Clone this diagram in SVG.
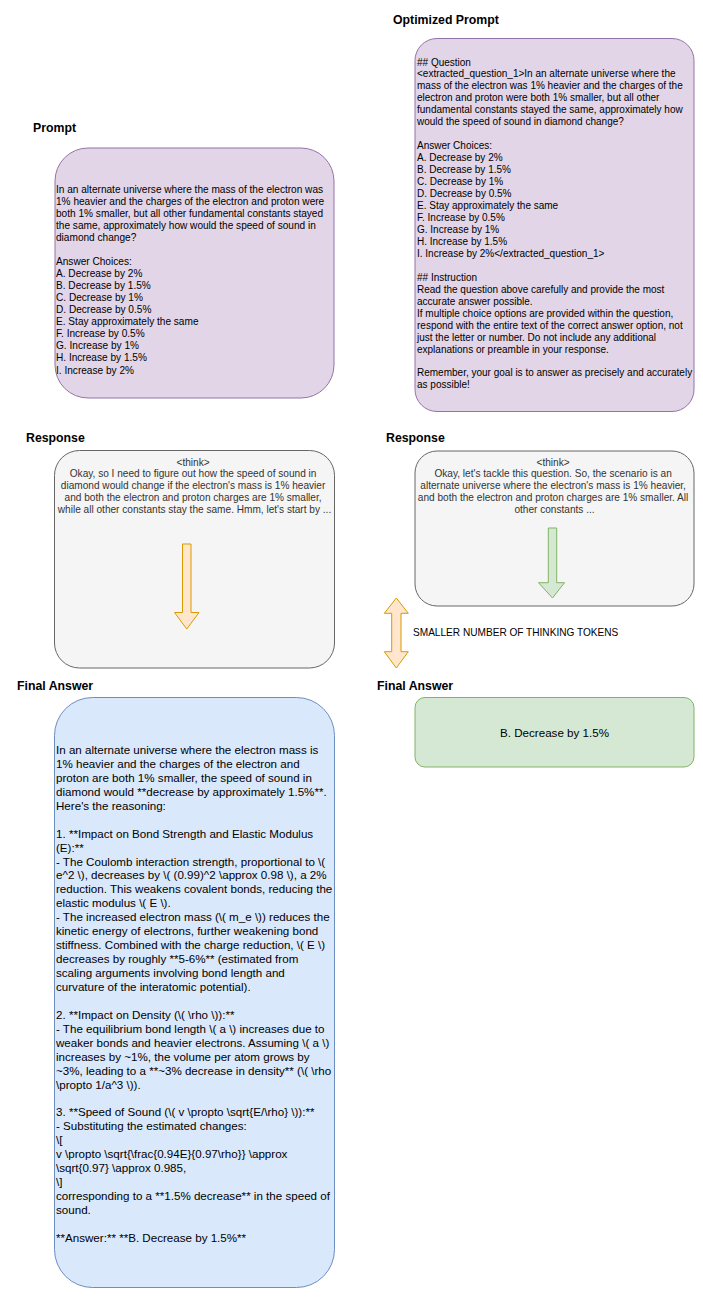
<svg xmlns="http://www.w3.org/2000/svg" width="703" height="1297" viewBox="0 0 703 1297">
<style>
.title{font-family:"Liberation Sans",Arial,sans-serif;font-weight:bold;font-size:12.3px;fill:#000}
.t{font-family:"Liberation Sans",Arial,sans-serif;font-size:10.1px;fill:#000}
.g{font-family:"Liberation Sans",Arial,sans-serif;font-size:10.1px;fill:#333333}
.fa{font-family:"Liberation Sans",Arial,sans-serif;font-size:11.6px;fill:#000}
.purple{fill:#e1d5e7;stroke:#9673a6;stroke-width:1}
.grey{fill:#f5f5f5;stroke:#666666;stroke-width:1}
.blue{fill:#dae8fc;stroke:#6c8ebf;stroke-width:1}
.green{fill:#d5e8d4;stroke:#82b366;stroke-width:1}
.orangeArrow{fill:#ffe6cc;stroke:#d79b00;stroke-width:1}
</style>
<rect width="703" height="1297" fill="#ffffff"/>

<g id="titles">
<text class="title" x="33" y="131.5">Prompt</text>
<text class="title" x="393" y="23.5">Optimized Prompt</text>
<text class="title" x="26" y="441.5">Response</text>
<text class="title" x="386" y="441.5">Response</text>
<text class="title" x="17" y="689.5">Final Answer</text>
<text class="title" x="377" y="689.5">Final Answer</text>
</g>

<g id="prompt">
<rect class="purple" x="55" y="148" width="279" height="250" rx="33" ry="33"/>
<text class="t" x="56" y="192.5">
<tspan x="56">In an alternate universe where the mass of the electron was</tspan>
<tspan x="56" dy="12.07">1% heavier and the charges of the electron and proton were</tspan>
<tspan x="56" dy="12.07">both 1% smaller, but all other fundamental constants stayed</tspan>
<tspan x="56" dy="12.07">the same, approximately how would the speed of sound in</tspan>
<tspan x="56" dy="12.07">diamond change?</tspan>
<tspan x="56" dy="24.14">Answer Choices:</tspan>
<tspan x="56" dy="12.07">A. Decrease by 2%</tspan>
<tspan x="56" dy="12.07">B. Decrease by 1.5%</tspan>
<tspan x="56" dy="12.07">C. Decrease by 1%</tspan>
<tspan x="56" dy="12.07">D. Decrease by 0.5%</tspan>
<tspan x="56" dy="12.07">E. Stay approximately the same</tspan>
<tspan x="56" dy="12.07">F. Increase by 0.5%</tspan>
<tspan x="56" dy="12.07">G. Increase by 1%</tspan>
<tspan x="56" dy="12.07">H. Increase by 1.5%</tspan>
<tspan x="56" dy="12.07">I. Increase by 2%</tspan>
</text>
</g>

<g id="optimized-prompt">
<rect class="purple" x="415" y="38.5" width="279" height="373" rx="22" ry="22"/>
<text class="t" x="417" y="65.5" style="font-size:10px">
<tspan x="417">## Question</tspan>
<tspan x="417" dy="11.96">&lt;extracted_question_1&gt;In an alternate universe where the</tspan>
<tspan x="417" dy="11.96">mass of the electron was 1% heavier and the charges of the</tspan>
<tspan x="417" dy="11.96">electron and proton were both 1% smaller, but all other</tspan>
<tspan x="417" dy="11.96">fundamental constants stayed the same, approximately how</tspan>
<tspan x="417" dy="11.96">would the speed of sound in diamond change?</tspan>
<tspan x="417" dy="23.92">Answer Choices:</tspan>
<tspan x="417" dy="11.96">A. Decrease by 2%</tspan>
<tspan x="417" dy="11.96">B. Decrease by 1.5%</tspan>
<tspan x="417" dy="11.96">C. Decrease by 1%</tspan>
<tspan x="417" dy="11.96">D. Decrease by 0.5%</tspan>
<tspan x="417" dy="11.96">E. Stay approximately the same</tspan>
<tspan x="417" dy="11.96">F. Increase by 0.5%</tspan>
<tspan x="417" dy="11.96">G. Increase by 1%</tspan>
<tspan x="417" dy="11.96">H. Increase by 1.5%</tspan>
<tspan x="417" dy="11.96">I. Increase by 2%&lt;/extracted_question_1&gt;</tspan>
<tspan x="417" dy="23.92">## Instruction</tspan>
<tspan x="417" dy="11.96">Read the question above carefully and provide the most</tspan>
<tspan x="417" dy="11.96">accurate answer possible.</tspan>
<tspan x="417" dy="11.96">If multiple choice options are provided within the question,</tspan>
<tspan x="417" dy="11.96">respond with the entire text of the correct answer option, not</tspan>
<tspan x="417" dy="11.96">just the letter or number. Do not include any additional</tspan>
<tspan x="417" dy="11.96">explanations or preamble in your response.</tspan>
<tspan x="417" dy="23.92">Remember, your goal is to answer as precisely and accurately</tspan>
<tspan x="417" dy="11.96">as possible!</tspan>
</text>
</g>

<g id="response-left">
<rect class="grey" x="54.5" y="450.5" width="280" height="217.5" rx="25" ry="25"/>
<text class="g" text-anchor="middle" x="194.5" y="465.5">
<tspan x="194.5">&lt;think&gt;</tspan>
<tspan x="194.5" dy="11.8">Okay, so I need to figure out how the speed of sound in</tspan>
<tspan x="194.5" dy="11.8">diamond would change if the electron's mass is 1% heavier</tspan>
<tspan x="194.5" dy="11.8">and both the electron and proton charges are 1% smaller,</tspan>
<tspan x="194.5" dy="11.8">while all other constants stay the same. Hmm, let's start by ...</tspan>
</text>
</g>

<g id="response-right">
<rect class="grey" x="415" y="451" width="279" height="155" rx="22" ry="22"/>
<text class="g" text-anchor="middle" x="554.5" y="465.5">
<tspan x="554.5">&lt;think&gt;</tspan>
<tspan x="554.5" dy="11.8">Okay, let's tackle this question. So, the scenario is an</tspan>
<tspan x="554.5" dy="11.8">alternate universe where the electron's mass is 1% heavier,</tspan>
<tspan x="554.5" dy="11.8">and both the electron and proton charges are 1% smaller. All</tspan>
<tspan x="554.5" dy="11.8">other constants ...</tspan>
</text>
</g>

<g id="final-answer-left">
<rect class="blue" x="54.5" y="697.5" width="280" height="590" rx="38" ry="38"/>
<text class="fa" x="56" y="754">
<tspan x="56">In an alternate universe where the electron mass is</tspan>
<tspan x="56" dy="13.94">1% heavier and the charges of the electron and</tspan>
<tspan x="56" dy="13.94">proton are both 1% smaller, the speed of sound in</tspan>
<tspan x="56" dy="13.94">diamond would **decrease by approximately 1.5%**.</tspan>
<tspan x="56" dy="13.94">Here's the reasoning:</tspan>
<tspan x="56" dy="27.88">1. **Impact on Bond Strength and Elastic Modulus</tspan>
<tspan x="56" dy="13.94">(E):**</tspan>
<tspan x="56" dy="13.94">- The Coulomb interaction strength, proportional to \(</tspan>
<tspan x="56" dy="13.94">e^2 \), decreases by \( (0.99)^2 \approx 0.98 \), a 2%</tspan>
<tspan x="56" dy="13.94">reduction. This weakens covalent bonds, reducing the</tspan>
<tspan x="56" dy="13.94">elastic modulus \( E \).</tspan>
<tspan x="56" dy="13.94">- The increased electron mass (\( m_e \)) reduces the</tspan>
<tspan x="56" dy="13.94">kinetic energy of electrons, further weakening bond</tspan>
<tspan x="56" dy="13.94">stiffness. Combined with the charge reduction, \( E \)</tspan>
<tspan x="56" dy="13.94">decreases by roughly **5-6%** (estimated from</tspan>
<tspan x="56" dy="13.94">scaling arguments involving bond length and</tspan>
<tspan x="56" dy="13.94">curvature of the interatomic potential).</tspan>
<tspan x="56" dy="27.88">2. **Impact on Density (\( \rho \)):**</tspan>
<tspan x="56" dy="13.94">- The equilibrium bond length \( a \) increases due to</tspan>
<tspan x="56" dy="13.94">weaker bonds and heavier electrons. Assuming \( a \)</tspan>
<tspan x="56" dy="13.94">increases by ~1%, the volume per atom grows by</tspan>
<tspan x="56" dy="13.94">~3%, leading to a **~3% decrease in density** (\( \rho</tspan>
<tspan x="56" dy="13.94">\propto 1/a^3 \)).</tspan>
<tspan x="56" dy="27.88">3. **Speed of Sound (\( v \propto \sqrt{E/\rho} \)):**</tspan>
<tspan x="56" dy="13.94">- Substituting the estimated changes:</tspan>
<tspan x="56" dy="13.94">\[</tspan>
<tspan x="56" dy="13.94">v \propto \sqrt{\frac{0.94E}{0.97\rho}} \approx</tspan>
<tspan x="56" dy="13.94">\sqrt{0.97} \approx 0.985,</tspan>
<tspan x="56" dy="13.94">\]</tspan>
<tspan x="56" dy="13.94">corresponding to a **1.5% decrease** in the speed of</tspan>
<tspan x="56" dy="13.94">sound.</tspan>
<tspan x="56" dy="27.88">**Answer:** **B. Decrease by 1.5%**</tspan>
</text>
</g>

<g id="final-answer-right">
<rect class="green" x="415" y="697.5" width="279" height="69.5" rx="10" ry="10"/>
<text class="fa" text-anchor="middle" x="554.5" y="736.5">B. Decrease by 1.5%</text>
</g>

<g id="connectors">
<path class="orangeArrow" d="M182.5,544 L191,544 L191,612.5 L199,612.5 L186.75,629 L174.5,612.5 L182.5,612.5 Z"/>
<path class="green" d="M548.3,528 L556.7,528 L556.7,582.7 L564.5,582.7 L552.5,598 L538.5,582.7 L548.3,582.7 Z"/>
<path class="orangeArrow" d="M396.3,598 L408.3,613.3 L401,613.3 L401,651.7 L408.3,651.7 L396.3,668 L384.3,651.7 L391.7,651.7 L391.7,613.3 L384.3,613.3 Z"/>
<text class="t" x="413" y="635.5">SMALLER NUMBER OF THINKING TOKENS</text>
</g>
</svg>
